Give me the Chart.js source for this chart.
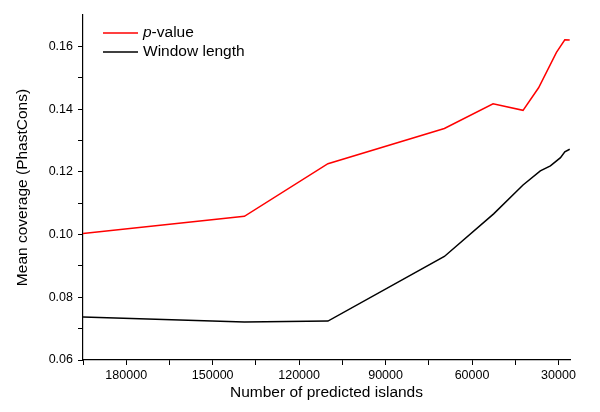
<!DOCTYPE html>
<html>
<head>
<meta charset="utf-8">
<script src="https://cdn.jsdelivr.net/npm/chart.js@4.4.1/dist/chart.umd.min.js"></script>
<style>
  body { margin: 0; background: #fff; }
  #wrap { width: 600px; height: 412px; }
</style>
</head>
<body>
<div id="wrap"><canvas id="chart"></canvas></div>
<script>
// DATA
let pvalX = [195000, 139000, 110000, 69600, 52700, 42300, 36900, 30700, 27800, 26100];
let pvalY = [0.1003, 0.1058, 0.1226, 0.1338, 0.1417, 0.1396, 0.1468, 0.1581, 0.1621, 0.1620];

let winX = [195000, 139000, 110000, 69600, 52500, 42300, 36300, 32800, 29300, 27800, 26100];
let winY = [0.0737, 0.0721, 0.0724, 0.0930, 0.1066, 0.1158, 0.1203, 0.1219, 0.1245, 0.1264, 0.1272];

let xTicks = [180000, 150000, 120000, 90000, 60000, 30000];
let yTicks = [0.06, 0.08, 0.10, 0.12, 0.14, 0.16];

let FONT = "'Liberation Sans', Arial, Helvetica, sans-serif";

function pairs(xs, ys) {
    return xs.map((x, i) => ({ x: x, y: ys[i] }));
}

// legend drawn inside plot, with italic p
let insideLegend = {
    id: "insideLegend",
    afterDraw(chart) {
        let ctx = chart.ctx;
        let a = chart.chartArea;
        let rows = [
            { color: "#ff0000", y: a.top + 18 },
            { color: "#000000", y: a.top + 37 }
        ];
        ctx.save();
        rows.forEach(r => {
            ctx.strokeStyle = r.color;
            ctx.lineWidth = 1.5;
            ctx.beginPath();
            ctx.moveTo(a.left + 20, r.y);
            ctx.lineTo(a.left + 55, r.y);
            ctx.stroke();
        });
        ctx.fillStyle = "#000";
        ctx.textBaseline = "middle";
        ctx.textAlign = "left";
        ctx.font = "italic 15.5px " + FONT;
        ctx.fillText("p", a.left + 60, rows[0].y);
        let w = ctx.measureText("p").width;
        ctx.font = "15.5px " + FONT;
        ctx.fillText("-value", a.left + 60 + w, rows[0].y);
        ctx.fillText("Window length", a.left + 60, rows[1].y);
        ctx.restore();
    }
};

let ctx1 = document.getElementById("chart");

new Chart(ctx1, {
    type: "line",
    data: {
        datasets: [{
            label: "p-value",
            data: pairs(pvalX, pvalY),
            borderColor: "#ff0000",
            borderWidth: 1.5,
            pointRadius: 0,
            fill: false
        }, {
            label: "Window length",
            data: pairs(winX, winY),
            borderColor: "#000000",
            borderWidth: 1.5,
            pointRadius: 0,
            fill: false
        }]
    },
    options: {
        responsive: true,
        maintainAspectRatio: false,
        animation: false,
        layout: { padding: { top: 15, right: 30, left: 0, bottom: 0 } },
        plugins: {
            legend: { display: false },
            tooltip: { enabled: false }
        },
        scales: {
            x: {
                type: "linear",
                reverse: true,
                min: 26000,
                max: 195000,
                afterFit(scale) { scale.height = 52; },
                afterBuildTicks(scale) {
                    let t = [];
                    for (let v = 30000; v <= 195000; v += 15000) t.push({ value: v });
                    scale.ticks = t;
                },
                border: { color: "#000", width: 1.2 },
                grid: { drawOnChartArea: false, drawTicks: true, tickLength: 5, tickColor: "#000" },
                ticks: {
                    autoSkip: false,
                    maxRotation: 0,
                    padding: 3,
                    color: "#000",
                    font: { family: FONT, size: 12.5 },
                    callback: v => xTicks.includes(Math.round(v)) ? String(Math.round(v)) : ""
                },
                title: {
                    display: true,
                    text: "Number of predicted islands",
                    color: "#000",
                    font: { family: FONT, size: 15.5 },
                    padding: { top: 0, bottom: 10 }
                }
            },
            y: {
                min: 0.06,
                max: 0.17,
                afterFit(scale) { scale.width = 83; },
                border: { color: "#000", width: 1.2 },
                grid: {
                    drawOnChartArea: false,
                    drawTicks: true,
                    tickLength: 5,
                    tickColor: c => (c.tick && Math.round(c.tick.value * 100) === 17) ? "rgba(0,0,0,0)" : "#000"
                },
                ticks: {
                    stepSize: 0.01,
                    autoSkip: false,
                    padding: 5,
                    color: "#000",
                    font: { family: FONT, size: 12.5 },
                    callback: v => {
                        let k = Math.round(v * 100);
                        return yTicks.some(t => Math.round(t * 100) === k) ? v.toFixed(2) : "";
                    }
                },
                title: {
                    display: true,
                    text: "Mean coverage (PhastCons)",
                    color: "#000",
                    font: { family: FONT, size: 15.5 },
                    padding: { top: 13, bottom: 0 }
                }
            }
        }
    },
    plugins: [insideLegend]
});
</script>
</body>
</html>
